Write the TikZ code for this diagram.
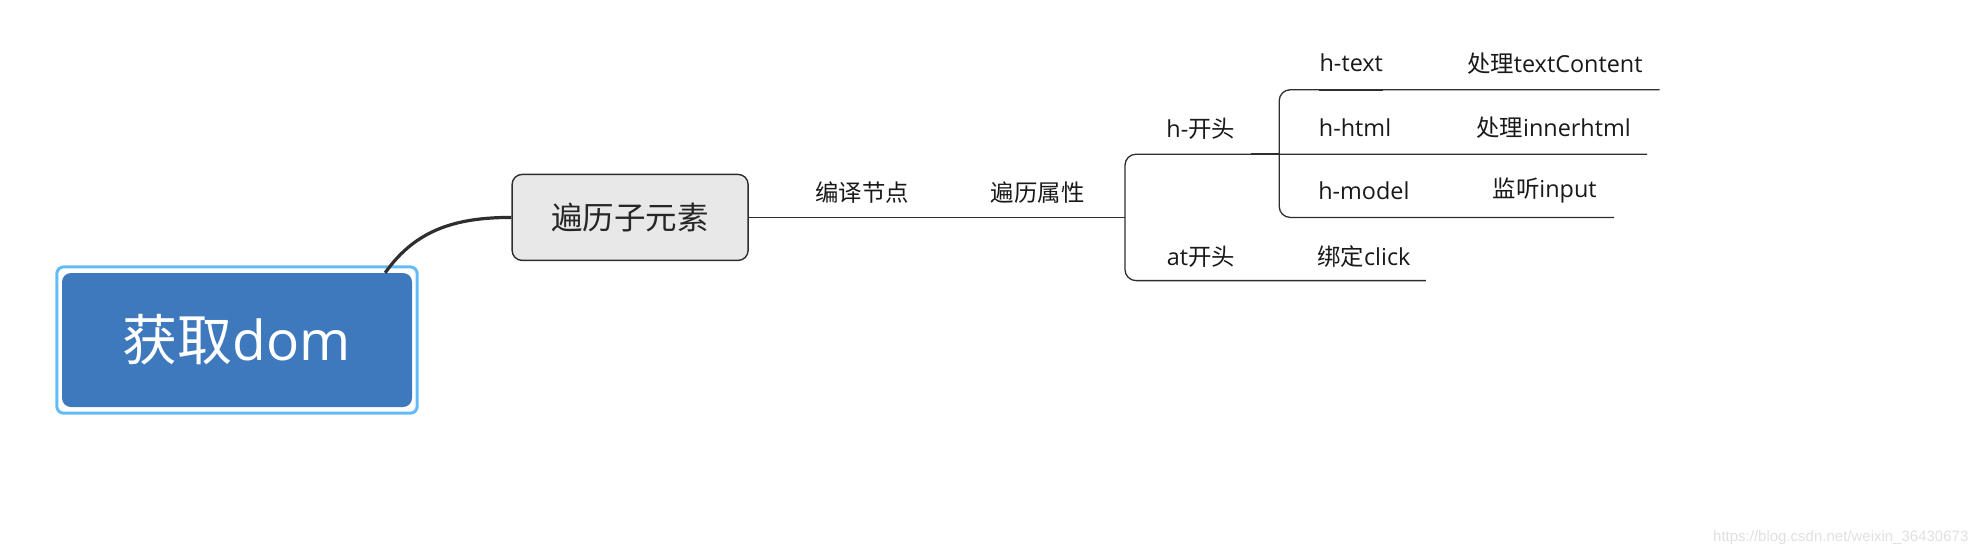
\documentclass[tikz,border=0pt]{standalone}
\usepackage{fontspec}
\setmainfont{Open Sans}
\newfontfamily\cjk{Noto Sans CJK SC}
\newfontfamily\markfont{Liberation Sans}
\usetikzlibrary{positioning}
\definecolor{rootblue}{HTML}{3F79BD}
\definecolor{rimblue}{HTML}{62BBF6}
\definecolor{boxgray}{HTML}{E8E8E8}
\definecolor{linegray}{HTML}{2E2E2E}

\begin{document}
\begin{tikzpicture}[x=1.264pt,y=-1.264pt,
    root/.style={fill=rootblue,rounded corners=9pt,minimum width=350pt,minimum height=134pt,
        text=white,font=\fontsize{55}{60}\selectfont},
    rim/.style={draw=rimblue,line width=3pt,rounded corners=7pt},
    topic/.style={draw=linegray,fill=boxgray,line width=1.4pt,rounded corners=10pt,
        minimum width=236pt,minimum height=86pt,text=black!85,font=\fontsize{31.5}{34}\selectfont},
    leaf/.style={inner sep=0pt,text=black!90,font=\fontsize{23.4}{26}\selectfont},
    branch/.style={draw=linegray,line width=1.3pt,rounded corners=11pt},
    curve/.style={draw=linegray,line width=3.2pt}]
    \useasboundingbox (0,0) rectangle (1568,440);
    % root and first topic
    \node[root] (root) at (187.5,269) {{\cjk 获取}dom};
    \draw[rim] ([xshift=-5pt,yshift=6pt]root.north west) rectangle ([xshift=5pt,yshift=-6pt]root.south east);
    \node[topic] (walk) at (498.5,172) {\cjk 遍历子元素};
    \coordinate (rootout) at ([xshift=-27pt]root.north east);
    \draw[curve] (rootout) to[out=55,in=180] (walk.west);
    % labels
    \node[leaf] (compile) at (682,152) {\cjk 编译节点};
    \node[leaf] (attrs) at (821,152) {\cjk 遍历属性};
    \node[leaf] (hhead) at (950,102) {h-{\cjk 开头}};
    \node[leaf] (athead) at (950,203) {at{\cjk 开头}};
    \node[leaf] (htext) at (1069,50) {h-text};
    \node[leaf] (dotext) at (1230,50) {{\cjk 处理}textContent};
    \node[leaf] (hhtml) at (1072,101) {h-html};
    \node[leaf] (dohtml) at (1229,101) {{\cjk 处理}innerhtml};
    \node[leaf] (hmodel) at (1079,151) {h-model};
    \node[leaf] (listen) at (1222,151) {{\cjk 监听}input};
    \node[leaf] (bind) at (1079,203) {{\cjk 绑定}click};
    % connectors
    \coordinate (forkA) at (870,172);
    \coordinate (forkAtop) at (890,122);
    \coordinate (forkAbot) at (890,222);
    \coordinate (forkBtop) at (1012,71);
    \coordinate (forkBbot) at (1012,172);
    \coordinate (textend) at (1313,71);
    \coordinate (htmlend) at (1303,122);
    \coordinate (modelend) at (1277,172);
    \coordinate (bindend) at (1128,222);
    \draw[branch] (walk.east) -- (forkA) -- (forkAtop |- forkA);
    \draw[branch] (htmlend) -- (forkAtop) -- (forkAbot) -- (bindend);
    \draw[branch] (textend) -- (forkBtop) -- (forkBbot) -- (modelend);
    \draw[linegray,line width=2.4pt] (forkBtop -| htext.west) -- (forkBtop -| htext.east);
    \draw[linegray,line width=2.4pt] (990,122) -- (forkBtop |- forkAtop);
    % watermark
    \node[text=black!12,font=\markfont\fontsize{15}{17}\selectfont,anchor=east] (mark) at (1560,425) {https://blog.csdn.net/weixin\_36430673};
\end{tikzpicture}
\end{document}
